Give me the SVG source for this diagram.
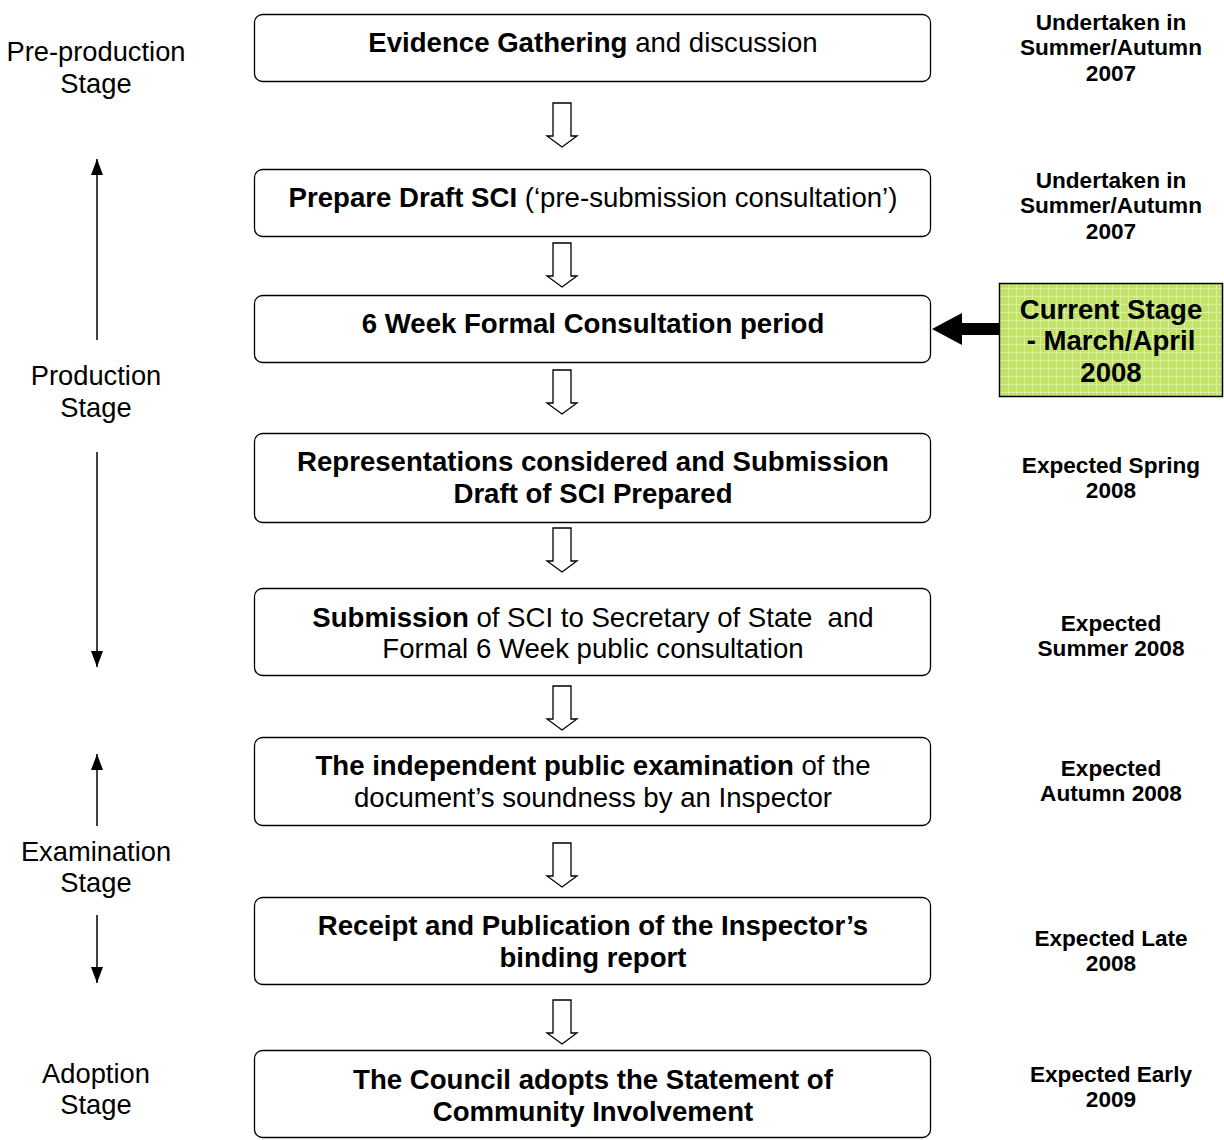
<svg xmlns="http://www.w3.org/2000/svg" width="1224" height="1140" viewBox="0 0 1224 1140">
<style>
.box{fill:#fff;stroke:#000;stroke-width:1.3}
.t{font-family:"Liberation Sans",Arial,sans-serif;font-size:27.6px;text-anchor:middle;fill:#000}
.b{font-weight:bold}
.r{font-family:"Liberation Sans",Arial,sans-serif;font-size:22.6px;font-weight:bold;text-anchor:middle;fill:#000}
.l{font-family:"Liberation Sans",Arial,sans-serif;font-size:27.3px;text-anchor:middle;fill:#000}
.c{font-family:"Liberation Sans",Arial,sans-serif;font-size:27.6px;font-weight:bold;text-anchor:middle;fill:#000}
.ha{fill:#fff;stroke:#000;stroke-width:1.3}
.vl{stroke:#000;stroke-width:1.5;fill:none}
</style>
<defs>
<path id="hollow" d="M553,0 H571 V33 H577 L562,44 L547,33 H553 Z"/>
<marker id="ah" viewBox="0 0 16 12" refX="16" refY="6" markerWidth="16" markerHeight="12" markerUnits="userSpaceOnUse" orient="auto">
<path d="M0,0 L16,6 L0,12 Z"/>
</marker>
<pattern id="grid" width="8" height="8" patternUnits="userSpaceOnUse">
<rect width="8" height="8" fill="#c2e26a"/>
<path d="M0,0.5 H8 M0.5,0 V8" stroke="#d9f09a" stroke-width="1"/>
</pattern>
</defs>

<g id="connectors">
<use href="#hollow" class="ha" y="103"/>
<use href="#hollow" class="ha" y="243"/>
<use href="#hollow" class="ha" y="370"/>
<use href="#hollow" class="ha" y="528"/>
<use href="#hollow" class="ha" y="686"/>
<use href="#hollow" class="ha" y="843"/>
<use href="#hollow" class="ha" y="1000"/>
<path d="M999,323 H962 V313 L932,329 L962,345 V335 H999 Z" fill="#000"/>
<line class="vl" x1="97" y1="340" x2="97" y2="159" marker-end="url(#ah)"/>
<line class="vl" x1="97" y1="452" x2="97" y2="667" marker-end="url(#ah)"/>
<line class="vl" x1="97" y1="826" x2="97" y2="754" marker-end="url(#ah)"/>
<line class="vl" x1="97" y1="915" x2="97" y2="983" marker-end="url(#ah)"/>
</g>

<g id="n1">
<rect class="box" x="254.5" y="14.5" width="676" height="67" rx="8"/>
<text class="t" x="593" y="52"><tspan class="b">Evidence Gathering</tspan> and discussion</text>
</g>
<g id="n2">
<rect class="box" x="254.5" y="169.5" width="676" height="67" rx="8"/>
<text class="t" x="593" y="207"><tspan class="b">Prepare Draft SCI</tspan> (‘pre-submission consultation’)</text>
</g>
<g id="n3">
<rect class="box" x="254.5" y="295.5" width="676" height="67" rx="8"/>
<text class="t b" x="593" y="333">6 Week Formal Consultation period</text>
</g>
<g id="n4">
<rect class="box" x="254.5" y="433.5" width="676" height="89" rx="8"/>
<text class="t b" x="593" y="471">Representations considered and Submission</text>
<text class="t b" x="593" y="503">Draft of SCI Prepared</text>
</g>
<g id="n5">
<rect class="box" x="254.5" y="588.5" width="676" height="87" rx="8"/>
<text class="t" x="593" y="627"><tspan class="b">Submission</tspan> of SCI to Secretary of State&#160; and</text>
<text class="t" x="593" y="658">Formal 6 Week public consultation</text>
</g>
<g id="n6">
<rect class="box" x="254.5" y="737.5" width="676" height="88" rx="8"/>
<text class="t" x="593" y="775"><tspan class="b">The independent public examination</tspan> of the</text>
<text class="t" x="593" y="807">document’s soundness by an Inspector</text>
</g>
<g id="n7">
<rect class="box" x="254.5" y="897.5" width="676" height="87" rx="8"/>
<text class="t b" x="593" y="935">Receipt and Publication of the Inspector’s</text>
<text class="t b" x="593" y="967">binding report</text>
</g>
<g id="n8">
<rect class="box" x="254.5" y="1050.5" width="676" height="87" rx="8"/>
<text class="t b" x="593" y="1089">The Council adopts the Statement of</text>
<text class="t b" x="593" y="1121">Community Involvement</text>
</g>

<g id="current">
<rect x="999.5" y="283.5" width="223" height="113" fill="url(#grid)" stroke="#000" stroke-width="1.5"/>
<text class="c" x="1111" y="319">Current Stage</text>
<text class="c" x="1111" y="350">- March/April</text>
<text class="c" x="1111" y="382">2008</text>
</g>

<g id="stages">
<text class="l" x="96" y="61">Pre-production</text>
<text class="l" x="96" y="93">Stage</text>
<text class="l" x="96" y="385">Production</text>
<text class="l" x="96" y="417">Stage</text>
<text class="l" x="96" y="861">Examination</text>
<text class="l" x="96" y="892">Stage</text>
<text class="l" x="96" y="1083">Adoption</text>
<text class="l" x="96" y="1114">Stage</text>
</g>

<g id="dates">
<text class="r" x="1111" y="30">Undertaken in</text>
<text class="r" x="1111" y="55">Summer/Autumn</text>
<text class="r" x="1111" y="81">2007</text>
<text class="r" x="1111" y="188">Undertaken in</text>
<text class="r" x="1111" y="213">Summer/Autumn</text>
<text class="r" x="1111" y="239">2007</text>
<text class="r" x="1111" y="473">Expected Spring</text>
<text class="r" x="1111" y="498">2008</text>
<text class="r" x="1111" y="631">Expected</text>
<text class="r" x="1111" y="656">Summer 2008</text>
<text class="r" x="1111" y="776">Expected</text>
<text class="r" x="1111" y="801">Autumn 2008</text>
<text class="r" x="1111" y="946">Expected Late</text>
<text class="r" x="1111" y="971">2008</text>
<text class="r" x="1111" y="1082">Expected Early</text>
<text class="r" x="1111" y="1107">2009</text>
</g>
</svg>
